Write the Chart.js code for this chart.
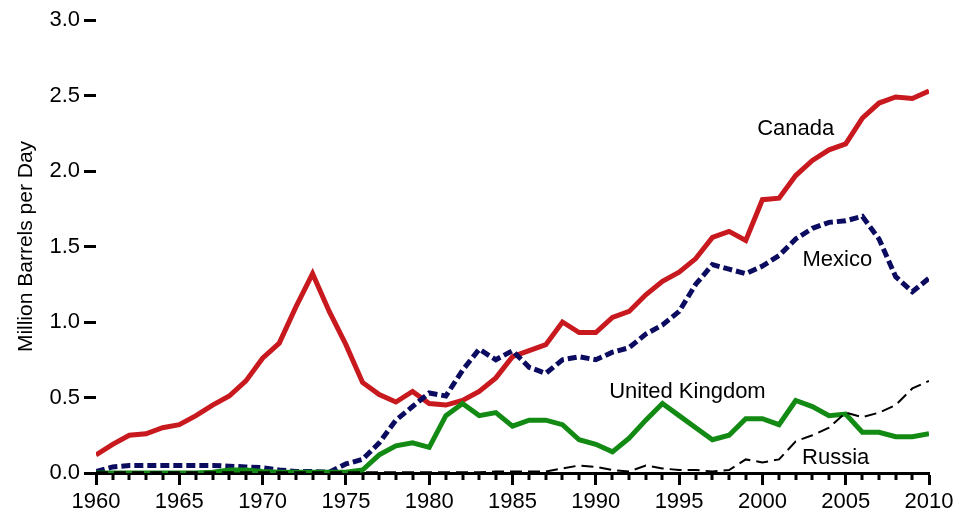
<!DOCTYPE html>
<html>
<head>
<meta charset="utf-8">
<script src="https://cdn.jsdelivr.net/npm/chart.js@4.4.0/dist/chart.umd.min.js"></script>
<style>
  html, body { margin: 0; padding: 0; background: #fff; }
  #wrap { width: 958px; height: 513px; }
</style>
</head>
<body>
<div id="wrap"><canvas id="myChart" width="958" height="513"></canvas></div>
<script>
let years = [];
for (let y = 1960; y <= 2010; y++) years.push(y);

// million barrels per day
let canada = [0.12, 0.19, 0.25, 0.26, 0.30, 0.32, 0.38, 0.45, 0.51, 0.61,
  0.76, 0.86, 1.10, 1.32, 1.07, 0.85, 0.60, 0.52, 0.47, 0.54,
  0.46, 0.45, 0.48, 0.54, 0.63, 0.77, 0.81, 0.85, 1.00, 0.93,
  0.93, 1.03, 1.07, 1.18, 1.27, 1.33, 1.42, 1.56, 1.60, 1.54,
  1.81, 1.82, 1.97, 2.07, 2.14, 2.18, 2.35, 2.45, 2.49, 2.48, 2.53];

let mexico = [0.01, 0.04, 0.05, 0.05, 0.05, 0.05, 0.05, 0.05, 0.045, 0.04,
  0.035, 0.02, 0.01, 0.01, 0.005, 0.06, 0.09, 0.20, 0.35, 0.44,
  0.53, 0.51, 0.68, 0.82, 0.75, 0.81, 0.70, 0.66, 0.75, 0.77,
  0.75, 0.80, 0.83, 0.92, 0.98, 1.07, 1.25, 1.38, 1.35, 1.32,
  1.37, 1.44, 1.55, 1.62, 1.66, 1.67, 1.70, 1.55, 1.30, 1.20, 1.29];

let uk = [0, 0, 0, 0, 0, 0, 0, 0.005, 0.02, 0.02,
  0.01, 0.005, 0.005, 0.005, 0.005, 0.005, 0.02, 0.12, 0.18, 0.20,
  0.17, 0.38, 0.46, 0.38, 0.40, 0.31, 0.35, 0.35, 0.32, 0.22,
  0.19, 0.14, 0.23, 0.35, 0.46, 0.38, 0.30, 0.22, 0.25, 0.36,
  0.36, 0.32, 0.48, 0.44, 0.38, 0.39, 0.27, 0.27, 0.24, 0.24, 0.26];

let russia = [0.005, 0.005, 0.005, 0.005, 0.005, 0.005, 0.005, 0.005, 0.005, 0.005,
  0.005, 0.005, 0.005, 0.005, 0.005, 0.005, 0.005, 0.005, 0.005, 0.005,
  0.005, 0.005, 0.005, 0.005, 0.01, 0.01, 0.01, 0.01, 0.03, 0.05,
  0.04, 0.02, 0.01, 0.05, 0.03, 0.02, 0.02, 0.01, 0.02, 0.09,
  0.07, 0.09, 0.21, 0.25, 0.30, 0.40, 0.37, 0.40, 0.45, 0.56, 0.61];

let yTicks = [0, 0.5, 1.0, 1.5, 2.0, 2.5, 3.0];

// series labels placed next to the lines (year, value)
let seriesLabels = [
  { text: "Canada", x: 2002.0, y: 2.28 },
  { text: "Mexico", x: 2004.5, y: 1.41 },
  { text: "United Kingdom", x: 1995.5, y: 0.54 },
  { text: "Russia", x: 2004.4, y: 0.10 },
];

const FONT = "'Liberation Sans', Arial, sans-serif";

function pts(values) {
  return years.map((yr, i) => ({ x: yr, y: values[i] }));
}

// minor year ticks + text labels
let extras = {
  id: "extras",
  afterDraw(c) {
    let ctx = c.ctx;
    let xs = c.scales.x;
    let ys = c.scales.y;
    ctx.save();
    ctx.strokeStyle = "#000";
    ctx.lineWidth = 3;
    for (let yr of years) {
      if (yr % 5 === 0) continue;
      let px = Math.round(xs.getPixelForValue(yr));
      ctx.beginPath();
      ctx.moveTo(px, xs.top);
      ctx.lineTo(px, xs.top + 7);
      ctx.stroke();
    }
    ctx.fillStyle = "#000";
    ctx.font = "22px " + FONT;
    ctx.textAlign = "center";
    ctx.textBaseline = "middle";
    for (let l of seriesLabels) {
      ctx.fillText(l.text, xs.getPixelForValue(l.x), ys.getPixelForValue(l.y));
    }
    ctx.restore();
  },
};

let config = {
  type: "line",
  data: {
    datasets: [
      {
        label: "Russia",
        data: pts(russia),
        borderColor: "#000000",
        borderWidth: 2,
        borderDash: [12, 6],
      },
      {
        label: "United Kingdom",
        data: pts(uk),
        borderColor: "#138a13",
        borderWidth: 5,
      },
      {
        label: "Mexico",
        data: pts(mexico),
        borderColor: "#0b0b60",
        borderWidth: 5,
        borderDash: [9, 4],
      },
      {
        label: "Canada",
        data: pts(canada),
        borderColor: "#c8191e",
        borderWidth: 5,
      },
    ],
  },
  options: {
    responsive: false,
    animation: false,
    events: [],
    elements: {
      point: { radius: 0 },
      line: { tension: 0, borderJoinStyle: "miter", borderCapStyle: "butt" },
    },
    layout: { padding: { top: 20, right: 29, left: 0, bottom: 0 } },
    plugins: {
      legend: { display: false },
      tooltip: { enabled: false },
    },
    scales: {
      x: {
        type: "linear",
        min: 1960,
        max: 2010,
        afterFit(s) { s.height = 40; },
        border: { display: true, color: "#000", width: 3 },
        grid: {
          drawOnChartArea: false,
          tickLength: 12,
          tickWidth: 3,
          tickColor: "#000",
        },
        ticks: {
          stepSize: 5,
          padding: 4,
          color: "#000",
          font: { family: FONT, size: 22 },
          callback: (v) => String(v),
        },
      },
      y: {
        min: 0,
        max: 3.0,
        afterFit(s) { s.width = 96; },
        afterBuildTicks(s) { s.ticks = yTicks.map((v) => ({ value: v })); },
        border: { display: false },
        grid: {
          drawOnChartArea: false,
          tickLength: 12,
          tickWidth: 3,
          tickColor: "#000",
        },
        ticks: {
          padding: 4,
          color: "#000",
          font: { family: FONT, size: 22 },
          callback: (v) => v.toFixed(1),
        },
        title: {
          display: true,
          text: "Million Barrels per Day",
          color: "#000",
          font: { family: FONT, size: 21 },
          padding: { top: 14, bottom: 2 },
        },
      },
    },
  },
  plugins: [extras],
};

new Chart(document.getElementById("myChart"), config);
</script>
</body>
</html>
